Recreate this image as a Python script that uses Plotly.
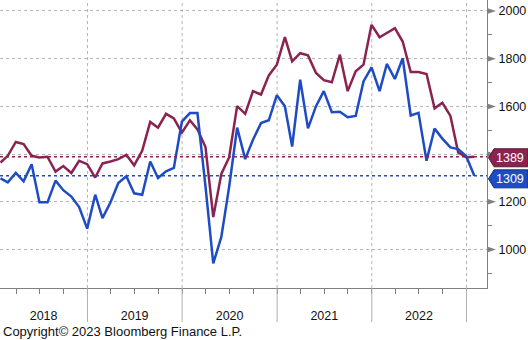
import pandas as pd
import plotly.graph_objects as go

# Monthly series, Jan 2018 .. Jan 2023 (month-end dates)
months = pd.date_range("2018-01-31", periods=61, freq="ME")

permits = [1365, 1393, 1451, 1442, 1393, 1386, 1389, 1327, 1350, 1321, 1372, 1358,
           1302, 1361, 1369, 1379, 1397, 1353, 1414, 1535, 1511, 1569, 1550, 1490,
           1542, 1504, 1430, 1136, 1317, 1386, 1601, 1569, 1664, 1650, 1730, 1775,
           1890, 1789, 1823, 1814, 1740, 1710, 1701, 1817, 1664, 1747, 1775, 1942,
           1890, 1907, 1928, 1872, 1744, 1744, 1736, 1592, 1615, 1560, 1407, 1387,
           1389]

starts = [1299, 1282, 1321, 1286, 1358, 1198, 1198, 1289, 1249, 1222, 1178, 1088,
          1230, 1132, 1198, 1279, 1307, 1236, 1230, 1369, 1300, 1328, 1342, 1536,
          1572, 1572, 1265, 942, 1053, 1261, 1511, 1379, 1460, 1530, 1542, 1647,
          1601, 1432, 1712, 1508, 1601, 1664, 1576, 1578, 1555, 1560, 1705, 1764,
          1664, 1778, 1715, 1802, 1562, 1573, 1372, 1507, 1465, 1428, 1421, 1391,
          1309]

y_ticks = [1000, 1200, 1400, 1600, 1800, 2000]
y_labels = ["1000", "1200", "", "1600", "1800", "2000"]   # 1400 sits under the value tags
year_starts = ["2019-01-01", "2020-01-01", "2021-01-01", "2022-01-01", "2023-01-01"]
year_label_pos = ["2018-07-16", "2019-07-02", "2020-07-02", "2021-07-02", "2022-07-02"]
year_labels = ["2018", "2019", "2020", "2021", "2022"]

RED = "#8b2350"
BLUE = "#1f4cc4"
AXIS = "#7f7f7f"
GRID = "#b4b4b4"
FONT = "Liberation Sans, Arial, sans-serif"

W, H = 528, 340
L, R, T, B = 0, 41, 0, 52
PW, PH = W - L - R, H - T - B
Y0, Y1 = 839, 2046
UPP = (Y1 - Y0) / PH          # y units per pixel
XPP = 1.0 / PW                # paper x per pixel

fig = go.Figure()
fig.add_trace(go.Scatter(x=months, y=permits, mode="lines",
                         line=dict(color=RED, width=2.5), hoverinfo="skip"))
fig.add_trace(go.Scatter(x=months, y=starts, mode="lines",
                         line=dict(color=BLUE, width=2.5), hoverinfo="skip"))

shapes = []
# year separators: dotted inside the plot, solid below the axis
for d in year_starts:
    shapes.append(dict(type="line", xref="x", yref="paper", x0=d, x1=d, y0=0, y1=1,
                       line=dict(color=GRID, width=1, dash="dot"), layer="below"))
    shapes.append(dict(type="line", xref="x", yref="paper", x0=d, x1=d, y0=0, y1=-34 / PH,
                       line=dict(color="#b0b0b0", width=1)))

# last-value reference lines
for val, col in ((permits[-1], RED), (starts[-1], BLUE)):
    shapes.append(dict(type="line", xref="paper", yref="y", x0=0, x1=1, y0=val, y1=val,
                       line=dict(color=col, width=1.5, dash="dot")))

# arrow markers on the major ticks of the right axis
for v in y_ticks:
    h = 3 * UPP
    shapes.append(dict(type="path", xref="paper", yref="y",
                       path=f"M 1 {v - h} L {1 + 9 * XPP} {v} L 1 {v + h} Z",
                       fillcolor="#808080", line=dict(width=0)))

# value tags on the right edge
tag_h = 18 * UPP
tags = [(permits[-1], permits[-1] - 1 * UPP, RED, "#5e1533"),
        (starts[-1], starts[-1] - 3 * UPP, BLUE, "#123080")]
annotations = []
for val, yc, col, edge in tags:
    x_tip = 1 + 1.5 * XPP
    x_body = 1 + 7 * XPP
    x_end = 1 + 41 * XPP
    shapes.append(dict(type="path", xref="paper", yref="y",
                       path=(f"M {x_tip} {yc} L {x_body} {yc + tag_h / 2} L {x_end} {yc + tag_h / 2} "
                             f"L {x_end} {yc - tag_h / 2} L {x_body} {yc - tag_h / 2} Z"),
                       fillcolor=col, line=dict(color=edge, width=1)))
    annotations.append(dict(xref="paper", yref="y", x=1 + 23 * XPP, y=yc, text=f"{val:d}",
                            showarrow=False, xanchor="center", yanchor="middle",
                            font=dict(family=FONT, size=12.5, color="white")))

annotations.append(dict(xref="paper", yref="paper", x=0.002, y=(PH - 331) / PH,
                        text="Copyright\u00a9 2023 Bloomberg Finance L.P.", showarrow=False,
                        xanchor="left", yanchor="middle",
                        font=dict(family=FONT, size=13, color="#111111")))

fig.update_layout(
    width=W, height=H, margin=dict(l=L, r=R, t=T, b=B),
    paper_bgcolor="white", plot_bgcolor="white", showlegend=False,
    shapes=shapes, annotations=annotations,
    font=dict(family=FONT, size=12.5, color="#111111"),
    xaxis=dict(type="date", range=["2018-01-29", "2023-03-21"],
               tickmode="array", tickvals=year_label_pos, ticktext=year_labels,
               ticks="", showgrid=False, zeroline=False,
               showline=True, linecolor=AXIS, linewidth=1,
               ticklabelstandoff=16,
               minor=dict(ticks="outside", ticklen=5, tickcolor=AXIS,
                          tickmode="linear", tick0="2018-01-01", dtick="M3", showgrid=False)),
    yaxis=dict(side="right", range=[Y0, Y1], tickmode="array", tickvals=y_ticks,
               ticktext=y_labels, ticks="",
               showgrid=True, gridcolor=GRID, griddash="dot", gridwidth=1,
               zeroline=False, showline=True, linecolor=AXIS, linewidth=1,
               ticklabelstandoff=8,
               minor=dict(ticks="outside", ticklen=4, tickcolor=AXIS,
                          tickmode="linear", tick0=1100, dtick=200, showgrid=False)),
)

fig.write_html("out.html")
